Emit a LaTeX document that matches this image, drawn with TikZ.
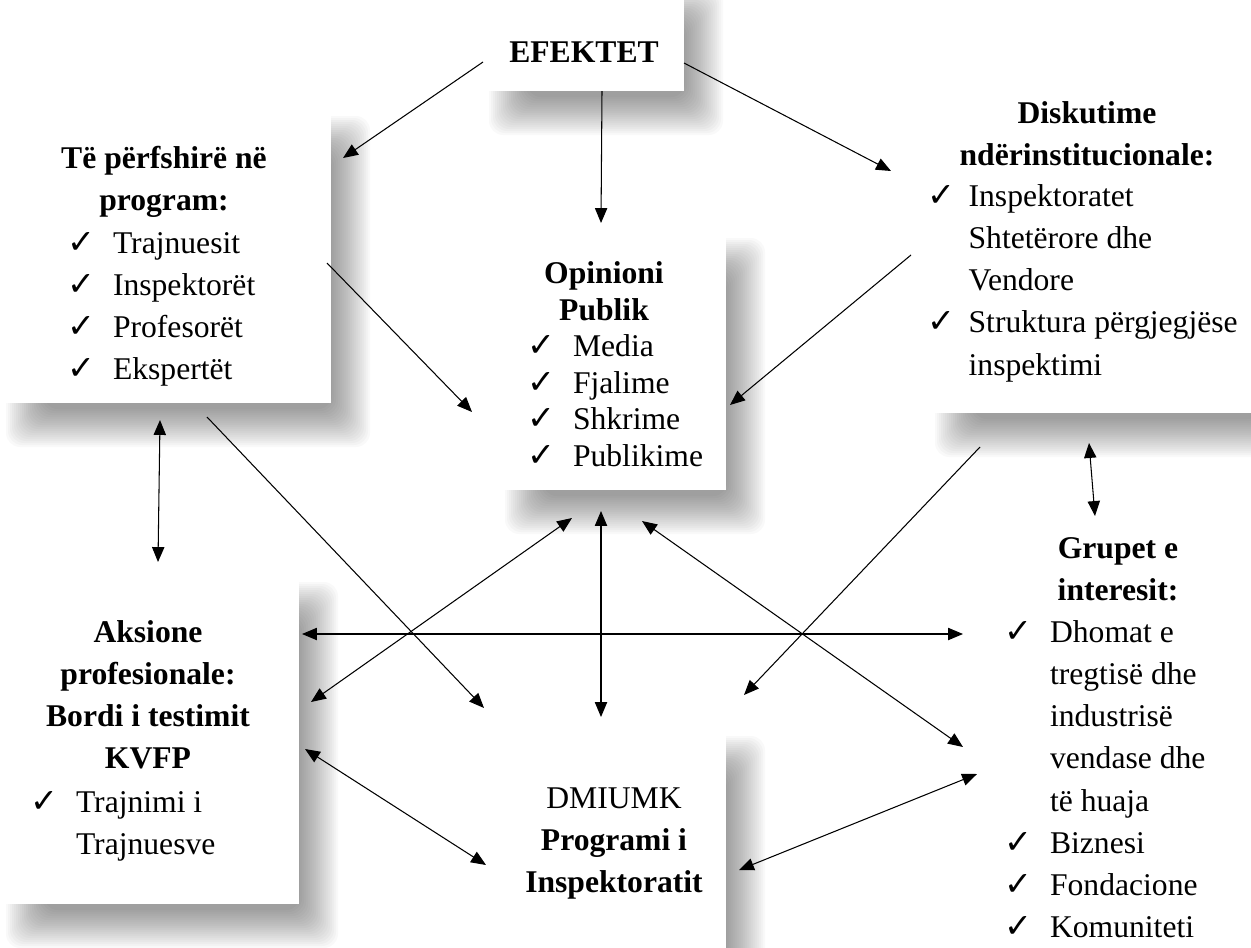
\documentclass[tikz,border=0pt]{standalone}
\usepackage{fontspec}
\setmainfont{Liberation Serif}
\newfontfamily\tickfont{DejaVu Sans}
\usetikzlibrary{arrows.meta}

% tick mark and hanging indent for the lists
\newcommand{\chk}[1][26pt]{\strut\makebox[#1][l]{\tickfont\fontsize{19}{19}\selectfont ✓}}
\newcommand{\ind}[1][26pt]{\strut\hspace*{#1}}

% white panel with a soft shadow
\newcommand{\panel}[4]{%
  \foreach \k in {0,...,19}
    \fill[black,opacity=.025,rounded corners=8pt] (#1+44-2*\k,#2+44-2*\k) rectangle (#3+1+2*\k,#4+6+2*\k);
  \fill[white] (#1,#2) rectangle (#3,#4);
}

\tikzset{
  link/.style={-{Triangle[length=8.5pt,width=7pt]},line width=.6pt},
  both/.style={{Triangle[length=8.5pt,width=7pt]}-{Triangle[length=8.5pt,width=7pt]},line width=.6pt},
  head/.style={font=\bfseries\fontsize{18}{24}\selectfont,align=center,inner sep=0pt,anchor=north},
  items/.style={font=\fontsize{18}{24}\selectfont,align=left,inner sep=0pt,anchor=north west},
}

\begin{document}
\begin{tikzpicture}[x=0.02cm,y=-0.02cm]
\useasboundingbox (0,0) rectangle (1251,947);
\clip (0,0) rectangle (1251,947);

% panels
\panel{483}{-20}{684}{91}
\panel{0}{110}{331}{403}
\panel{499}{232}{726}{490}
\panel{929}{85}{1260}{413}
\panel{0}{576}{299}{904}
\panel{490}{730}{726}{970}

% texts
\node[head,anchor=base] (efektet) at (584,62) {EFEKTET};

\node[head] (ltHead) at (164,138.5) {\strut Të përfshirë në\\program:};
\node[items] (ltList) at (67,223.5) {\chk Trajnuesit\\\chk Inspektorët\\\chk Profesorët\\\chk Ekspertët};

\node[head,font=\bfseries\fontsize{18}{21}\selectfont] (opHead) at (604,257) {\strut Opinioni\\Publik};
\node[items,font=\fontsize{18}{21}\selectfont] (opList) at (527,330) {\chk Media\\\chk Fjalime\\\chk Shkrime\\\chk Publikime};

\node[head] (rtHead) at (1087,93.5) {\strut Diskutime\\ndërinstitucionale:};
\node[items] (rtList) at (927,176.5) {\chk[19pt] Inspektoratet\\\ind[19pt] Shtetërore dhe\\\ind[19pt] Vendore\\\chk[19pt] Struktura përgjegjëse\\\ind[19pt] inspektimi};

\node[head] (grHead) at (1118,528.5) {\strut Grupet e\\interesit:};
\node[items] (grList) at (1004,612.5) {\chk Dhomat e\\\ind tregtisë dhe\\\ind industrisë\\\ind vendase dhe\\\ind të huaja\\\chk Biznesi\\\chk Fondacione\\\chk Komuniteti};

\node[head] (akHead) at (148,612.5) {\strut Aksione\\profesionale:\\Bordi i testimit\\KVFP};
\node[items] (akList) at (30,782.5) {\chk Trajnimi i\\\ind Trajnuesve};

\node[head,font=\fontsize{18}{24}\selectfont] (dmiumk) at (614,778.5) {\strut DMIUMK\\\textbf{Programi i}\\\textbf{Inspektoratit}};

% ports of the panels
\foreach \n/\x/\y in {efek-w/483/62, efek-s/602/91, efek-e/684/63,
    lt-ne/343/158, lt-e/327/263, lt-s1/160/420, lt-s2/207/417,
    op-n/601/223, op-w/472/412, op-e/730/405, op-s1/572/518, op-s2/601/511, op-s3/642/521,
    rt-w/891/171, rt-sw/911/255, rt-s1/1089/443, rt-s2/980/447,
    ak-n/158/562, ak-e0/302/634, ak-e1/311/702, ak-e2/305/749,
    gr-n/1095/516, gr-w0/963/634, gr-w1/963/747, gr-w2/977/774,
    dm-n/601/717, dm-nw/484/708, dm-ne/744/695, dm-w/486/865, dm-e/739/870}
  \coordinate (\n) at (\x,\y);

% connectors
\draw[link] (efek-w) -- (lt-ne);
\draw[link] (efek-s) -- (op-n);
\draw[link] (efek-e) -- (rt-w);
\draw[link] (lt-e) -- (op-w);
\draw[link] (rt-sw) -- (op-e);
\draw[link] (lt-s2) -- (dm-nw);
\draw[link] (rt-s2) -- (dm-ne);
\draw[both] (lt-s1) -- (ak-n);
\draw[both] (rt-s1) -- (gr-n);
\draw[both] (op-s1) -- (ak-e1);
\draw[both] (op-s2) -- (dm-n);
\draw[both] (op-s3) -- (gr-w1);
\draw[both] (ak-e0) -- (gr-w0);
\draw[both] (ak-e2) -- (dm-w);
\draw[both] (gr-w2) -- (dm-e);
\end{tikzpicture}
\end{document}
